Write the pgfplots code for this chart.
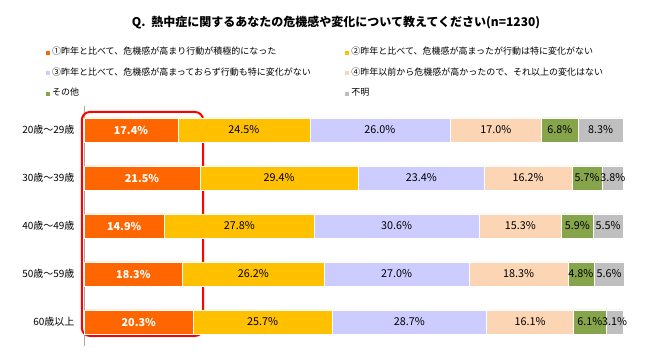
\documentclass[border=0pt]{standalone}
\usepackage{fontspec}
\setmainfont{Noto Sans CJK JP}
\usepackage{pgfplots}
\pgfplotsset{compat=1.18}
\usepackage{pgfplotstable}

\definecolor{cA}{HTML}{FF6600}
\definecolor{cB}{HTML}{FFC000}
\definecolor{cC}{HTML}{CCCCFF}
\definecolor{cD}{HTML}{FCD5B5}
\definecolor{cE}{HTML}{86A44A}
\definecolor{cF}{HTML}{BFBFBF}

\pgfplotstableread{
pos a b c d e f
0 17.4 24.5 26.0 17.0 6.8 8.3
1 21.5 29.4 23.4 16.2 5.7 3.8
2 14.9 27.8 30.6 15.3 5.9 5.5
3 18.3 26.2 27.0 18.3 4.8 5.6
4 20.3 25.7 28.7 16.1 6.1 3.1
}\datatable

\pgfplotsset{
  seg/.style={
    fill=#1, draw=white, line width=0.4pt,
    visualization depends on={rawx \as \val},
    nodes near coords={\pgfmathprintnumber[fixed,fixed zerofill,precision=1,assume math mode=true]{\val}\%},
    every node near coord/.style={anchor=center,
      font=\fontsize{10.8}{12}\selectfont, text=black, inner sep=0pt},
  },
}

\begin{document}
\begin{tikzpicture}[x=1pt,y=1pt]
\useasboundingbox (0,0) rectangle (650,352);
\node[font=\bfseries\fontsize{12}{14}\selectfont] at (336,329)
  {Q.\enspace 熱中症に関するあなたの危機感や変化について教えてください(n=1230)};
\begin{axis}[
  at={(84pt,6pt)}, anchor=south west,
  scale only axis, width=539pt, height=240pt,
  xmin=0, xmax=100, ymin=-0.5, ymax=4.5, y dir=reverse,
  xbar stacked, bar width=24pt,
  clip=false,
  axis x line=none, axis y line=left,
  y axis line style={-, draw=gray!70, line width=0.8pt},
  major tick length=0pt,
  ytick={0,1,2,3,4},
  yticklabels={20歳～29歳,30歳～39歳,40歳～49歳,50歳～59歳,60歳以上},
  yticklabel style={font=\fontsize{10}{12}\selectfont, xshift=-6pt},
  legend columns=2,
  legend cell align=left,
  legend image code/.code={\fill[#1] (0pt,-2.5pt) rectangle (5pt,2.5pt);},
  legend style={at={(-0.078,1.2583)}, anchor=north west, draw=none, fill=none,
    font=\fontsize{9}{11}\selectfont, row sep=8.5pt,
    nodes={inner sep=1.5pt, text height=7pt, text depth=2pt}},
  /tikz/every even column/.append style={column sep=32pt},
]
\addplot[seg=cA, every node near coord/.style={anchor=center, inner sep=0pt,
      text=white, font=\bfseries\fontsize{10.8}{12}\selectfont}] table[x=a,y=pos]{\datatable};
\addplot[seg=cB] table[x=b,y=pos]{\datatable};
\addplot[seg=cC] table[x=c,y=pos]{\datatable};
\addplot[seg=cD] table[x=d,y=pos]{\datatable};
\addplot[seg=cE] table[x=e,y=pos]{\datatable};
\addplot[seg=cF] table[x=f,y=pos]{\datatable};
\legend{①昨年と比べて、危機感が高まり行動が積極的になった,
②昨年と比べて、危機感が高まったが行動は特に変化がない,
③昨年と比べて、危機感が高まっておらず行動も特に変化がない,
④昨年以前から危機感が高かったので、それ以上の変化はない,
その他,不明}
\draw[red, line width=2pt, rounded corners=8pt] (axis cs:-0.4,-0.375) rectangle (axis cs:22.1,4.29);
\end{axis}
\end{tikzpicture}
\end{document}
